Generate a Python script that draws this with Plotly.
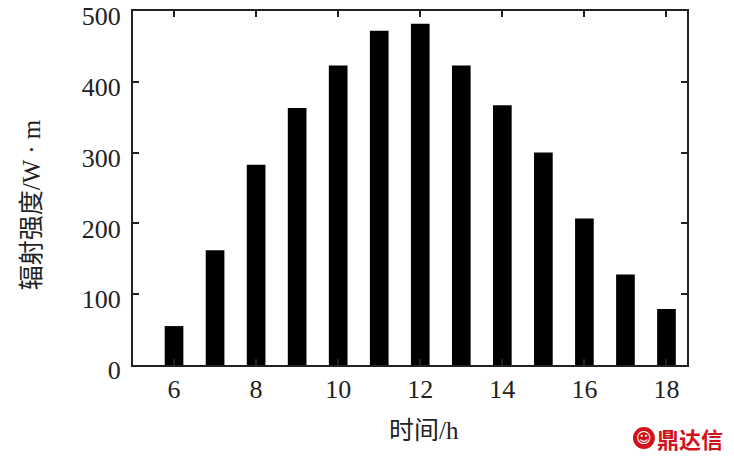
import plotly.graph_objects as go

hours = [6, 7, 8, 9, 10, 11, 12, 13, 14, 15, 16, 17, 18]
radiation = [55, 162, 283, 363, 423, 472, 482, 423, 367, 300, 207, 128, 79]
x_ticks = [6, 8, 10, 12, 14, 16, 18]
y_ticks = [0, 100, 200, 300, 400, 500]

serif = "Liberation Serif"
cjk = "Liberation Serif, Noto Sans CJK SC"

fig = go.Figure(go.Bar(x=hours, y=radiation, width=0.455,
                       marker=dict(color="black", line=dict(width=0))))

fig.update_layout(
    width=734, height=459,
    margin=dict(l=133, r=47, t=11, b=94, autoexpand=False),
    plot_bgcolor="white", paper_bgcolor="white",
    showlegend=False,
    font=dict(family=serif, size=26, color="#222"),
)
fig.update_xaxes(range=[5, 18.5], tickvals=x_ticks, ticktext=[str(v) for v in x_ticks],
                 ticks="inside", ticklen=6, tickwidth=2, tickcolor="#222",
                 showline=True, linecolor="#222", linewidth=2, mirror="ticks",
                 showgrid=False, zeroline=False, ticklabelstandoff=0, automargin=False,
                 ticklabeloverflow="allow")
fig.update_yaxes(range=[0, 500], tickvals=y_ticks, ticktext=[str(v) for v in y_ticks],
                 ticks="inside", ticklen=6, tickwidth=2, tickcolor="#222",
                 showline=True, linecolor="#222", linewidth=2, mirror="ticks",
                 showgrid=False, zeroline=False, ticklabelstandoff=5, automargin=False,
                 ticklabeloverflow="allow", ticklabelshift=5)

# axis titles
fig.add_annotation(text="时间/h", xref="paper", yref="paper", x=0.525, y=-0.186,
                   xanchor="center", yanchor="middle", showarrow=False,
                   font=dict(family=cjk, size=25, color="#222"))
fig.add_annotation(text="辐射强度/W · m", xref="paper", yref="paper", x=-0.182, y=0.452,
                   xanchor="center", yanchor="middle", showarrow=False, textangle=-90,
                   font=dict(family=cjk, size=25, color="#222"))

# watermark
fig.add_shape(type="circle", xref="paper", yref="paper", x0=0.9025, x1=0.942,
              y0=-0.237, y1=-0.175, fillcolor="#d0121b", line=dict(width=0))
fig.add_annotation(text="<b>☺</b>", xref="paper", yref="paper", x=0.922, y=-0.206,
                   xanchor="center", yanchor="middle", showarrow=False,
                   font=dict(family="DejaVu Sans", size=15, color="white"))
fig.add_annotation(text="<b>鼎达信</b>", xref="paper", yref="paper", x=1.005, y=-0.206,
                   xanchor="center", yanchor="middle", showarrow=False,
                   font=dict(family="Noto Sans CJK SC", size=22, color="#d0121b"))

fig.write_html("out.html", config={"displayModeBar": False},
               post_script="document.body.style.margin='0';")
